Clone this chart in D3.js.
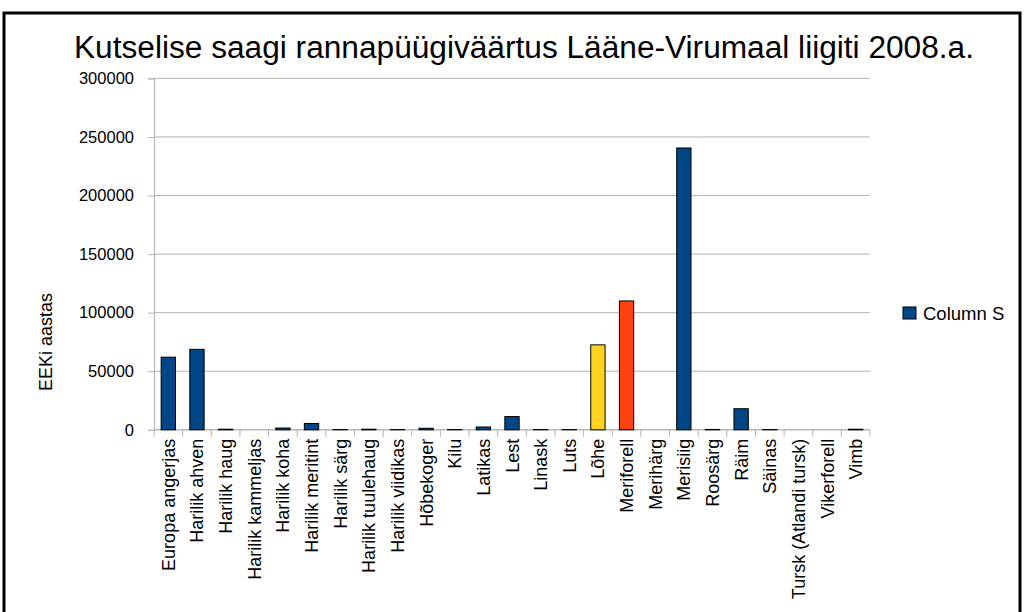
<!DOCTYPE html>
<html><head><meta charset="utf-8">
<script src="https://cdn.jsdelivr.net/npm/d3@7"></script>
<style>body{margin:0;background:#fff}svg{display:block}text{font-family:"Liberation Sans",Arial,sans-serif}</style>
</head><body>
<svg id="c" width="1024" height="612"></svg>
<script>
const title = "Kutselise saagi rannapüügiväärtus Lääne-Virumaal liigiti 2008.a.";
const yTitle = "EEKi aastas";
const seriesName = "Column S";
const categories = ["Europa angerjas","Harilik ahven","Harilik haug","Harilik kammeljas","Harilik koha","Harilik meritint","Harilik särg","Harilik tuulehaug","Harilik viidikas","Hõbekoger","Kilu","Latikas","Lest","Linask","Luts","Lõhe","Meriforell","Merihärg","Merisiig","Roosärg","Räim","Säinas","Tursk (Atlandi tursk)","Vikerforell","Vimb"];
const values = [62000,68700,500,0,1500,5400,200,500,200,1300,200,2400,11300,200,200,72500,110000,0,240600,300,18000,200,0,0,500];
const barColors = ["#004586","#004586","#004586","#004586","#004586","#004586","#004586","#004586","#004586","#004586","#004586","#004586","#004586","#004586","#004586","#ffd320","#ff420e","#004586","#004586","#004586","#004586","#004586","#004586","#004586","#004586"];
const yTicks = [0,50000,100000,150000,200000,250000,300000];

const svg = d3.select("#c");
const L = 154, R = 870, T = 78.4, B = 429.8;
const x = d3.scaleBand().domain(categories).range([L, R]).paddingInner(0.5).paddingOuter(0.25);
const y = d3.scaleLinear().domain([0, 300000]).range([B, T]);

svg.append("rect").attr("x",4).attr("y",13).attr("width",1016).attr("height",700)
  .attr("fill","none").attr("stroke","#000").attr("stroke-width",3);

svg.append("text").attr("x",524).attr("y",58).attr("text-anchor","middle")
  .attr("font-size",31).attr("textLength",900).attr("lengthAdjust","spacingAndGlyphs").text(title);

// grid
svg.append("g").selectAll("line").data(yTicks).join("line")
  .attr("x1",L).attr("x2",R).attr("y1",d=>y(d)).attr("y2",d=>y(d))
  .attr("stroke","#b3b3b3").attr("stroke-width",1);

// y axis
const ya = svg.append("g").attr("transform",`translate(${L},0)`)
  .call(d3.axisLeft(y).tickValues(yTicks).tickFormat(d3.format("d")).tickSize(6).tickPadding(14));
ya.select(".domain").attr("stroke","#b3b3b3");
ya.selectAll(".tick line").attr("stroke","#b3b3b3");
ya.selectAll("text").attr("font-size",16.5).attr("fill","#000").attr("font-family","Liberation Sans, Arial, sans-serif");

// x axis ticks at category boundaries
const step = x.step();
const bounds = d3.range(categories.length+1).map(i => L + i*step);
svg.append("g").selectAll("line").data(bounds).join("line")
  .attr("x1",d=>d).attr("x2",d=>d).attr("y1",B).attr("y2",B+7).attr("stroke","#b3b3b3");
svg.append("line").attr("x1",L).attr("x2",R).attr("y1",B).attr("y2",B).attr("stroke","#b3b3b3");

// bars
svg.append("g").selectAll("rect").data(values).join("rect")
  .attr("x",(d,i)=>x(categories[i])).attr("width",x.bandwidth())
  .attr("y",d=>y(d)).attr("height",d=>B-y(d))
  .attr("fill",(d,i)=>barColors[i]).attr("stroke","#000").attr("stroke-width",1);

// x labels
svg.append("g").selectAll("text").data(categories).join("text")
  .attr("transform",d=>`translate(${x(d)+x.bandwidth()/2+6.5},${B+9}) rotate(-90)`)
  .attr("text-anchor","end").attr("font-size",18).text(d=>d);

// y title
svg.append("text").attr("transform","translate(52,342) rotate(-90)").attr("text-anchor","middle")
  .attr("font-size",18).attr("font-family","DejaVu Sans").text(yTitle);

// legend
svg.append("rect").attr("x",903).attr("y",307).attr("width",13).attr("height",12)
  .attr("fill","#004586").attr("stroke","#000");
svg.append("text").attr("x",923).attr("y",320).attr("font-size",18.5).text(seriesName);
</script>
</body></html>
